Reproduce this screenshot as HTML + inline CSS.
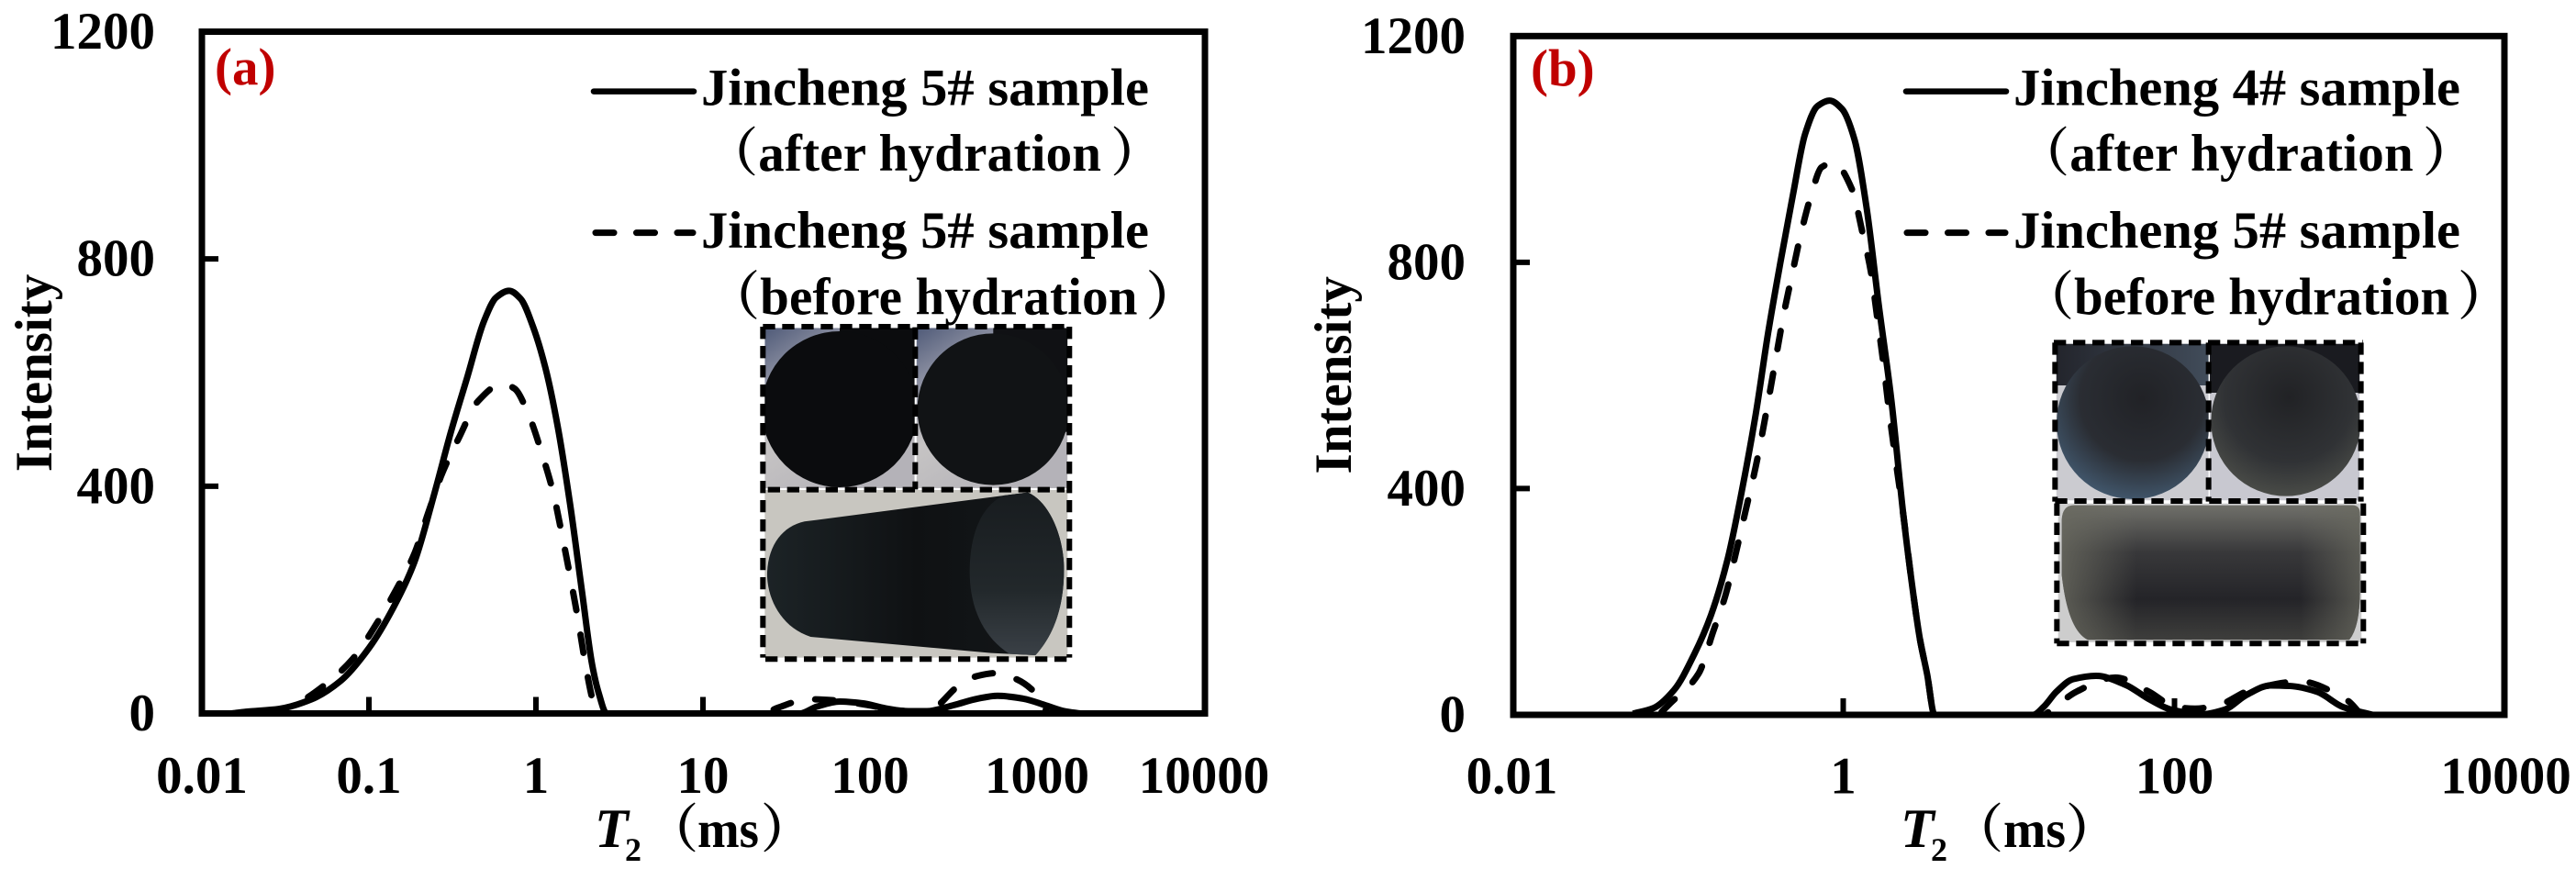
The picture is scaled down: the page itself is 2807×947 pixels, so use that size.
<!DOCTYPE html>
<html lang="en">
<head>
<meta charset="utf-8">
<title>T2 spectra before and after hydration</title>
<style>
html,body{margin:0;padding:0;background:#fff;}
svg{display:block;}
text{font-family:"Liberation Serif","Noto Serif CJK SC",serif;font-weight:bold;fill:#000;}
</style>
</head>
<body>
<svg id="figure" xmlns="http://www.w3.org/2000/svg" width="2807" height="947" viewBox="0 0 2807 947">
<defs>
<clipPath id="clipA1"><rect x="100" y="52" width="490" height="524"/></clipPath>
<clipPath id="clipA2"><rect x="596" y="52" width="494" height="524"/></clipPath>
<clipPath id="clipB1"><rect x="92" y="44" width="498" height="512"/></clipPath>
<clipPath id="clipB2"><rect x="594" y="44" width="490" height="512"/></clipPath>
<linearGradient id="bgA1" x1="0" y1="0" x2="0.6" y2="1"><stop offset="0" stop-color="#4f5a78"/><stop offset=".25" stop-color="#8a8ea0"/><stop offset=".55" stop-color="#c6c4c4"/><stop offset="1" stop-color="#b4b2b8"/></linearGradient>
<linearGradient id="cylA" x1="0" y1="0" x2="1" y2="0"><stop offset="0" stop-color="#1c2326"/><stop offset=".5" stop-color="#0f1113"/><stop offset="1" stop-color="#14181a"/></linearGradient>
<linearGradient id="faceA" x1="0" y1="0" x2="0" y2="1"><stop offset="0" stop-color="#181c1f"/><stop offset=".6" stop-color="#22282b"/><stop offset="1" stop-color="#3a4046"/></linearGradient>
<linearGradient id="topB1" x1="0" y1="0" x2="1" y2="0"><stop offset="0" stop-color="#23252c"/><stop offset="1" stop-color="#414c5a"/></linearGradient>
<radialGradient id="diskB1" cx=".56" cy=".34" r=".74"><stop offset="0" stop-color="#212226"/><stop offset=".55" stop-color="#2a2d33"/><stop offset="1" stop-color="#47617a"/></radialGradient>
<radialGradient id="diskB2" cx=".52" cy=".34" r=".72"><stop offset="0" stop-color="#212225"/><stop offset=".6" stop-color="#303235"/><stop offset="1" stop-color="#50524c"/></radialGradient>
<linearGradient id="cylB" x1="0" y1="0" x2="0" y2="1"><stop offset="0" stop-color="#70706a"/><stop offset=".35" stop-color="#38383a"/><stop offset=".7" stop-color="#242428"/><stop offset="1" stop-color="#3e3e3c"/></linearGradient>
<linearGradient id="cylBSide" x1="0" y1="0" x2="1" y2="0"><stop offset="0" stop-color="#6a6a60" stop-opacity=".8"/><stop offset=".25" stop-color="#6a6a60" stop-opacity="0"/><stop offset=".8" stop-color="#6a6a60" stop-opacity="0"/><stop offset="1" stop-color="#6a6a60" stop-opacity=".7"/></linearGradient>
</defs>

<g id="insetA" transform="translate(800,340) scale(0.3333)">
  <g clip-path="url(#clipA1)">
    <rect x="100" y="52" width="490" height="524" fill="url(#bgA1)"/>
    <rect x="345" y="52" width="245" height="348" fill="#0b0c0e"/>
    <circle cx="345" cy="318" r="255" fill="#0b0c0e"/>
  </g>
  <g clip-path="url(#clipA2)">
    <rect x="596" y="52" width="494" height="524" fill="url(#bgA1)"/>
    <rect x="847" y="52" width="243" height="340" fill="#101114"/>
    <circle cx="847" cy="318" r="248" fill="#111315"/>
  </g>
  <rect x="100" y="582" width="990" height="548" fill="#c8c6c0"/>
  <path d="M230 685 L960 590 C1030 620 1075 730 1078 830 C1080 930 1060 1040 985 1122 L840 1115 L250 1062 C150 1030 105 930 108 850 C112 760 160 700 230 685Z" fill="url(#cylA)"/>
  <path d="M880 600 C800 640 770 740 770 850 C770 960 810 1060 900 1118 L985 1122 C1060 1040 1080 930 1078 830 C1075 730 1030 620 960 590Z" fill="url(#faceA)"/>
  <g fill="none" stroke="#000" stroke-width="18" stroke-dasharray="40 23">
    <path d="M94 48 H1100 M94 48 V1130 M1096 48 V1130 M102 1135 H1090"/>
    <path d="M592 50 V580 M110 581 H1080"/>
  </g>
</g>

<g id="insetB" transform="translate(2210,360) scale(0.3333)">
  <g clip-path="url(#clipB1)">
    <rect x="92" y="44" width="498" height="512" fill="#cbcbd0"/>
    <rect x="92" y="44" width="498" height="136" fill="url(#topB1)"/>
    <circle cx="343" cy="302" r="250" fill="url(#diskB1)"/>
  </g>
  <g clip-path="url(#clipB2)">
    <rect x="594" y="44" width="490" height="512" fill="#c8c8d0"/>
    <rect x="594" y="44" width="490" height="160" fill="#1a1b20"/>
    <circle cx="843" cy="297" r="245" fill="url(#diskB2)"/>
  </g>
  <rect x="98" y="566" width="992" height="454" fill="#cdcdcd"/>
  <path d="M150 572 H1060 Q1085 572 1085 600 V850 Q1085 970 1050 1012 H195 Q130 980 110 800 V620 Q112 572 150 572Z" fill="url(#cylB)"/>
  <path d="M150 572 H1060 Q1085 572 1085 600 V850 Q1085 970 1050 1012 H195 Q130 980 110 800 V620 Q112 572 150 572Z" fill="url(#cylBSide)"/>
  <g fill="none" stroke="#000" stroke-width="18" stroke-dasharray="40 23">
    <path d="M84 40 H1094 M88 40 V560 M1088 40 V560 M88 558 H1094 M590 40 V560"/>
    <path d="M94 566 V1024 M1096 566 V1024 M94 1024 H1100"/>
  </g>
</g>

<g id="panelA"></g>
<g id="panelB"></g>

<g>
  <line x1="647" y1="99.6" x2="756" y2="99.6" stroke="#000" stroke-width="6.5" stroke-linecap="round"/>
  <text x="764" y="114.7" font-size="57" textLength="488" lengthAdjust="spacingAndGlyphs">Jincheng 5# sample</text>
  <text x="769" y="186" font-size="57" letter-spacing="0.2">（after hydration<tspan dx="10">）</tspan></text>
  <line x1="649" y1="253.6" x2="755" y2="253.6" stroke="#000" stroke-width="7" stroke-linecap="round" stroke-dasharray="20 24.5"/>
  <text x="764" y="270" font-size="57" textLength="488" lengthAdjust="spacingAndGlyphs">Jincheng 5# sample</text>
  <text x="771" y="342.4" font-size="57" letter-spacing="0.15">（before hydration<tspan dx="9">）</tspan></text>
</g>
<g>
  <line x1="2077" y1="99.6" x2="2186" y2="99.6" stroke="#000" stroke-width="6.5" stroke-linecap="round"/>
  <text x="2194" y="114.7" font-size="57" textLength="487" lengthAdjust="spacingAndGlyphs">Jincheng 4# sample</text>
  <text x="2198" y="186" font-size="57" letter-spacing="0.25">（after hydration<tspan dx="10">）</tspan></text>
  <line x1="2078" y1="253.6" x2="2185" y2="253.6" stroke="#000" stroke-width="7" stroke-linecap="round" stroke-dasharray="20 24.5"/>
  <text x="2194" y="270" font-size="57" textLength="487" lengthAdjust="spacingAndGlyphs">Jincheng 5# sample</text>
  <text x="2203" y="342.4" font-size="57">（before hydration<tspan dx="9">）</tspan></text>
</g>

<text x="234" y="92" font-size="57" style="fill:#c00000">(a)</text>
<text x="1668" y="93.6" font-size="57" style="fill:#c00000">(b)</text>

<text transform="translate(56,406.4) rotate(-90)" text-anchor="middle" font-size="57">Intensity</text>
<text transform="translate(1472,408.8) rotate(-90)" text-anchor="middle" font-size="57">Intensity</text>

<g>
  <text x="648" y="923" font-size="60" font-style="italic">T</text>
  <text x="681" y="938" font-size="36">2</text>
  <text x="704" y="923" font-size="57">（</text>
  <text x="760" y="923" font-size="57" textLength="67" lengthAdjust="spacingAndGlyphs">ms</text>
  <text x="829" y="923" font-size="57">）</text>
</g>
<g>
  <text x="2071" y="923" font-size="60" font-style="italic">T</text>
  <text x="2104" y="938" font-size="36">2</text>
  <text x="2126" y="923" font-size="57">（</text>
  <text x="2183" y="923" font-size="57" textLength="68" lengthAdjust="spacingAndGlyphs">ms</text>
  <text x="2251" y="923" font-size="57">）</text>
</g>

<script>
// ----- chart data -----
const yTickValues = [0, 400, 800, 1200];
const xLabelsA = ["0.01", "0.1", "1", "10", "100", "1000", "10000"];
const xTickValuesA = [0.1, 1, 10];
const xLabelsB = ["0.01", "1", "100", "10000"];
const xTickValuesB = [1, 100];

const t2AAfter = [0.015,0.0184,0.0289,0.0454,0.0675,0.1,0.141,0.187,0.247,0.31,0.389,0.488,0.577,0.692,0.809,0.96,1.14,1.35,1.6,1.89,2.17,2.37,2.65,38,48,66,90,124,170,219,320,440,580,828,1135,1462,1811];
const intensityAAfter = [0,3,8,25,57,115,188,266,388,496,593,690,732,744,730,681,608,505,369,213,86,37,0,0,12,21,18,9,4,4,15,26,31,26,14,4,0];

const t2ABefore = [0.025,0.0289,0.0384,0.0538,0.08,0.109,0.145,0.187,0.227,0.274,0.347,0.448,0.628,0.743,0.906,1.1,1.27,1.42,1.6,1.79,1.94,2.17,2.3,23,28,43,62,96,141,205,243,337,440,566,729,940,1052,1164];
const intensityABefore = [0,5,20,49,96,154,217,281,354,422,486,549,580,572,525,452,388,320,242,164,101,27,0,0,10,25,23,15,6,2,10,48,66,71,62,41,21,0];

const t2BAfter = [0.0538,0.0716,0.0953,0.1265,0.159,0.2,0.25,0.297,0.352,0.419,0.497,0.589,0.698,0.828,0.984,1.17,1.38,1.64,1.95,2.31,2.59,2.9,3.21,3.56,14,16.2,19.4,24.4,33.6,50.7,70,96,146,200,275,380,500,724,1037,1574];
const intensityBAfter = [2,12,44,108,176,274,411,533,675,802,919,1027,1076,1086,1071,1017,899,724,558,352,235,135,72,0,0,14,41,63,69,53,28,9,1,9,36,52,51,41,14,0];

const t2BBefore = [0.08,0.09,0.134,0.164,0.194,0.224,0.258,0.297,0.359,0.395,0.438,0.491,0.556,0.641,0.74,0.877,1.13,1.31,1.47,1.6,1.74,1.89,2.12,2.31,2.59,2.9,3.21,3.56,16.2,17.7,25.6,44,70,101,133,183,289,575,995,1135,1340];
const intensityBBefore = [5,20,73,147,210,284,362,440,567,636,709,778,851,919,968,976,929,851,783,705,626,538,430,352,235,135,72,0,0,7,41,66,41,14,11,17,44,59,34,23,0];

// ----- rendering -----
const SVGNS = "http://www.w3.org/2000/svg";

function makeAxes(left, right, top, bottom, x0, decade) {
  return {
    left: left, right: right, top: top, bottom: bottom,
    x: function (t) { return x0 + decade * (Math.log10(t) + 2); },
    y: function (v) { return bottom - (bottom - top) * v / 1200; }
  };
}

// Monotone cubic path: no overshoot below the axis or past a peak.
function splinePath(xs, ys) {
  const n = xs.length;
  const slopes = [];
  for (let i = 0; i < n - 1; i++) {
    slopes.push((ys[i + 1] - ys[i]) / (xs[i + 1] - xs[i]));
  }
  const m = [slopes[0]];
  for (let i = 1; i < n - 1; i++) {
    const a = slopes[i - 1], b = slopes[i];
    if (a * b <= 0) {
      m.push(0);
    } else {
      const h0 = xs[i] - xs[i - 1], h1 = xs[i + 1] - xs[i];
      const w1 = 2 * h1 + h0, w2 = h1 + 2 * h0;
      m.push((w1 + w2) / (w1 / a + w2 / b));
    }
  }
  m.push(slopes[n - 2]);
  let d = "M" + xs[0].toFixed(2) + " " + ys[0].toFixed(2);
  for (let i = 0; i < n - 1; i++) {
    const h = (xs[i + 1] - xs[i]) / 3;
    d += "C" + (xs[i] + h).toFixed(2) + " " + (ys[i] + m[i] * h).toFixed(2) + " " +
      (xs[i + 1] - h).toFixed(2) + " " + (ys[i + 1] - m[i + 1] * h).toFixed(2) + " " +
      xs[i + 1].toFixed(2) + " " + ys[i + 1].toFixed(2);
  }
  return d;
}

function drawCurve(group, axes, t2, vals, dashed, name) {
  const xs = t2.map(axes.x), ys = vals.map(axes.y);
  const p = document.createElementNS(SVGNS, "path");
  p.setAttribute("d", splinePath(xs, ys));
  p.setAttribute("fill", "none");
  p.setAttribute("stroke", "#000");
  p.setAttribute("stroke-width", dashed ? "7" : "7");
  if (dashed) {
    p.setAttribute("stroke-dasharray", "20 27");
    p.setAttribute("stroke-linecap", "round");
  }
  
  
  group.appendChild(p);
}

function drawTick(group, x1, y1, x2, y2, name) {
  const l = document.createElementNS(SVGNS, "line");
  l.setAttribute("x1", x1);
  l.setAttribute("y1", y1);
  l.setAttribute("x2", x2);
  l.setAttribute("y2", y2);
  l.setAttribute("stroke", "#000");
  l.setAttribute("stroke-width", "6");
  
  
  group.appendChild(l);
}

function drawLabel(group, x, y, anchor, str, name) {
  const t = document.createElementNS(SVGNS, "text");
  t.setAttribute("x", x);
  t.setAttribute("y", y);
  t.setAttribute("text-anchor", anchor);
  t.setAttribute("font-size", "57");
  t.textContent = str;
  
  
  group.appendChild(t);
}

function drawFrame(group, axes, name) {
  const r = document.createElementNS(SVGNS, "rect");
  r.setAttribute("x", axes.left);
  r.setAttribute("y", axes.top);
  r.setAttribute("width", axes.right - axes.left);
  r.setAttribute("height", axes.bottom - axes.top);
  r.setAttribute("fill", "none");
  r.setAttribute("stroke", "#000");
  r.setAttribute("stroke-width", "7");
  
  
  group.appendChild(r);
}

function drawPanel(group, axes, tag, xLabels, xTicks, labelRight, xLabelY) {
  xTicks.forEach(function (t) {
    drawTick(group, axes.x(t), axes.bottom, axes.x(t), axes.bottom - 18, "x-tick-" + tag + "-" + t);
  });
  yTickValues.forEach(function (v) {
    if (v > 0 && v < 1200) {
      drawTick(group, axes.left, axes.y(v), axes.left + 18, axes.y(v), "y-tick-" + tag + "-" + v);
    }
    drawLabel(group, labelRight, axes.y(v) + 18.5, "end", String(v), "y-tick-label-" + tag + "-" + v);
  });
  xLabels.forEach(function (lab) {
    drawLabel(group, axes.x(parseFloat(lab)), xLabelY, "middle", lab, "x-tick-label-" + tag + "-" + lab);
  });
}

const axesA = makeAxes(220, 1313, 34.5, 777.5, 220, 182);
const axesB = makeAxes(1649, 2729, 39.3, 779, 1647.5, 180.5);
const groupA = document.getElementById("panelA");
const groupB = document.getElementById("panelB");

drawCurve(groupA, axesA, t2AAfter, intensityAAfter, false, "curve-a-after-hydration");
drawCurve(groupA, axesA, t2ABefore, intensityABefore, true, "curve-a-before-hydration");
drawFrame(groupA, axesA, "plot-frame-a");
drawPanel(groupA, axesA, "a", xLabelsA, xTickValuesA, 169, 864);

drawCurve(groupB, axesB, t2BAfter, intensityBAfter, false, "curve-b-after-hydration");
drawCurve(groupB, axesB, t2BBefore, intensityBBefore, true, "curve-b-before-hydration");
drawFrame(groupB, axesB, "plot-frame-b");
drawPanel(groupB, axesB, "b", xLabelsB, xTickValuesB, 1597, 864.7);
</script>
</svg>
</body>
</html>
